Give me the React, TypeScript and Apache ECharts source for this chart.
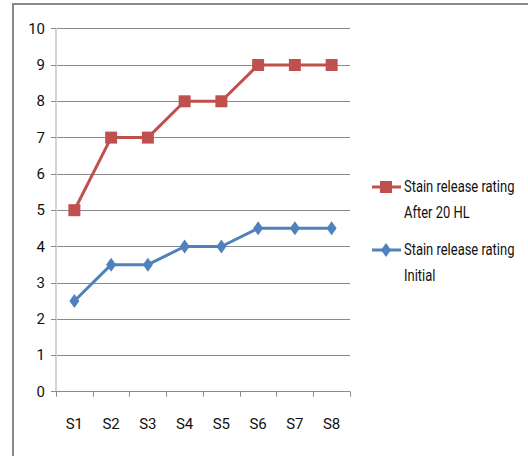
import React, { useEffect, useRef } from "react";
import * as echarts from "echarts";

const categories = ["S1", "S2", "S3", "S4", "S5", "S6", "S7", "S8"];
const afterValues = [5, 7, 7, 8, 8, 9, 9, 9];
const initialValues = [2.5, 3.5, 3.5, 4, 4, 4.5, 4.5, 4.5];
const seriesNames = ["Stain release rating After 20 HL", "Stain release rating Initial"];
const legendLines = [["Stain release rating", "After 20 HL"], ["Stain release rating", "Initial"]];

const RED = "#C0504D";
const BLUE = "#4F81BD";
const FONT = "Roboto, 'Liberation Sans', sans-serif";

export default function App() {
  const ref = useRef<HTMLDivElement>(null);
  useEffect(() => {
    if (!ref.current) return;
    const chart = echarts.init(ref.current, null, { renderer: "svg" });
    const legendY = [187, 250];
    const graphics: any[] = [
      {
        type: "rect",
        shape: { x: 13, y: 4, width: 540, height: 480 },
        style: { fill: "none", stroke: "#8a8a8a", lineWidth: 2 },
        silent: true,
      },
    ];
    legendY.forEach((y, i) => {
      const color = i === 0 ? RED : BLUE;
      graphics.push({
        type: "line",
        shape: { x1: 372, y1: y, x2: 401, y2: y },
        style: { stroke: color, lineWidth: 3 },
      });
      if (i === 0) {
        graphics.push({
          type: "rect",
          shape: { x: 380, y: y - 6, width: 12, height: 12 },
          style: { fill: color },
        });
      } else {
        graphics.push({
          type: "polygon",
          shape: { points: [[386, y - 7], [391, y], [386, y + 7], [381, y]] },
          style: { fill: color },
        });
      }
      legendLines[i].forEach((t, j) => {
        graphics.push({
          type: "text",
          x: 404,
          y: y + j * 26,
          scaleX: 0.81,
          style: {
            text: t,
            font: `16px ${FONT}`,
            fill: "#111",
            verticalAlign: "middle",
            align: "left",
          },
        });
      });
    });
    chart.setOption({
      animation: false,
      grid: { left: 56, top: 28.7, width: 294, height: 363, containLabel: false },
      xAxis: {
        type: "category",
        data: categories,
        boundaryGap: true,
        axisLine: { lineStyle: { color: "#8a8a8a", width: 1 } },
        axisTick: { show: true, alignWithLabel: false, length: 5, lineStyle: { color: "#8a8a8a" } },
        axisLabel: { color: "#111", fontFamily: FONT, fontSize: 15, margin: 25 },
      },
      yAxis: {
        type: "value",
        min: 0,
        max: 10,
        interval: 1,
        axisLine: { show: true, lineStyle: { color: "#d4d4d4", width: 2 } },
        axisTick: { show: true, length: 5, lineStyle: { color: "#8a8a8a" } },
        splitLine: { lineStyle: { color: "#8a8a8a", width: 1 } },
        axisLabel: { color: "#111", fontFamily: FONT, fontSize: 15, margin: 11 },
      },
      graphic: graphics,
      series: [
        {
          name: seriesNames[0],
          type: "line",
          data: afterValues,
          symbol: "rect",
          symbolSize: 12,
          lineStyle: { color: RED, width: 3 },
          itemStyle: { color: RED },
          z: 3,
        },
        {
          name: seriesNames[1],
          type: "line",
          data: initialValues,
          symbol: "diamond",
          symbolSize: [10, 14],
          lineStyle: { color: BLUE, width: 3 },
          itemStyle: { color: BLUE },
          z: 3,
        },
      ],
    });
    return () => chart.dispose();
  }, []);
  return (
    <div
      ref={ref}
      style={{ position: "fixed", left: 0, top: 0, width: 528, height: 456, background: "#fff" }}
    />
  );
}
